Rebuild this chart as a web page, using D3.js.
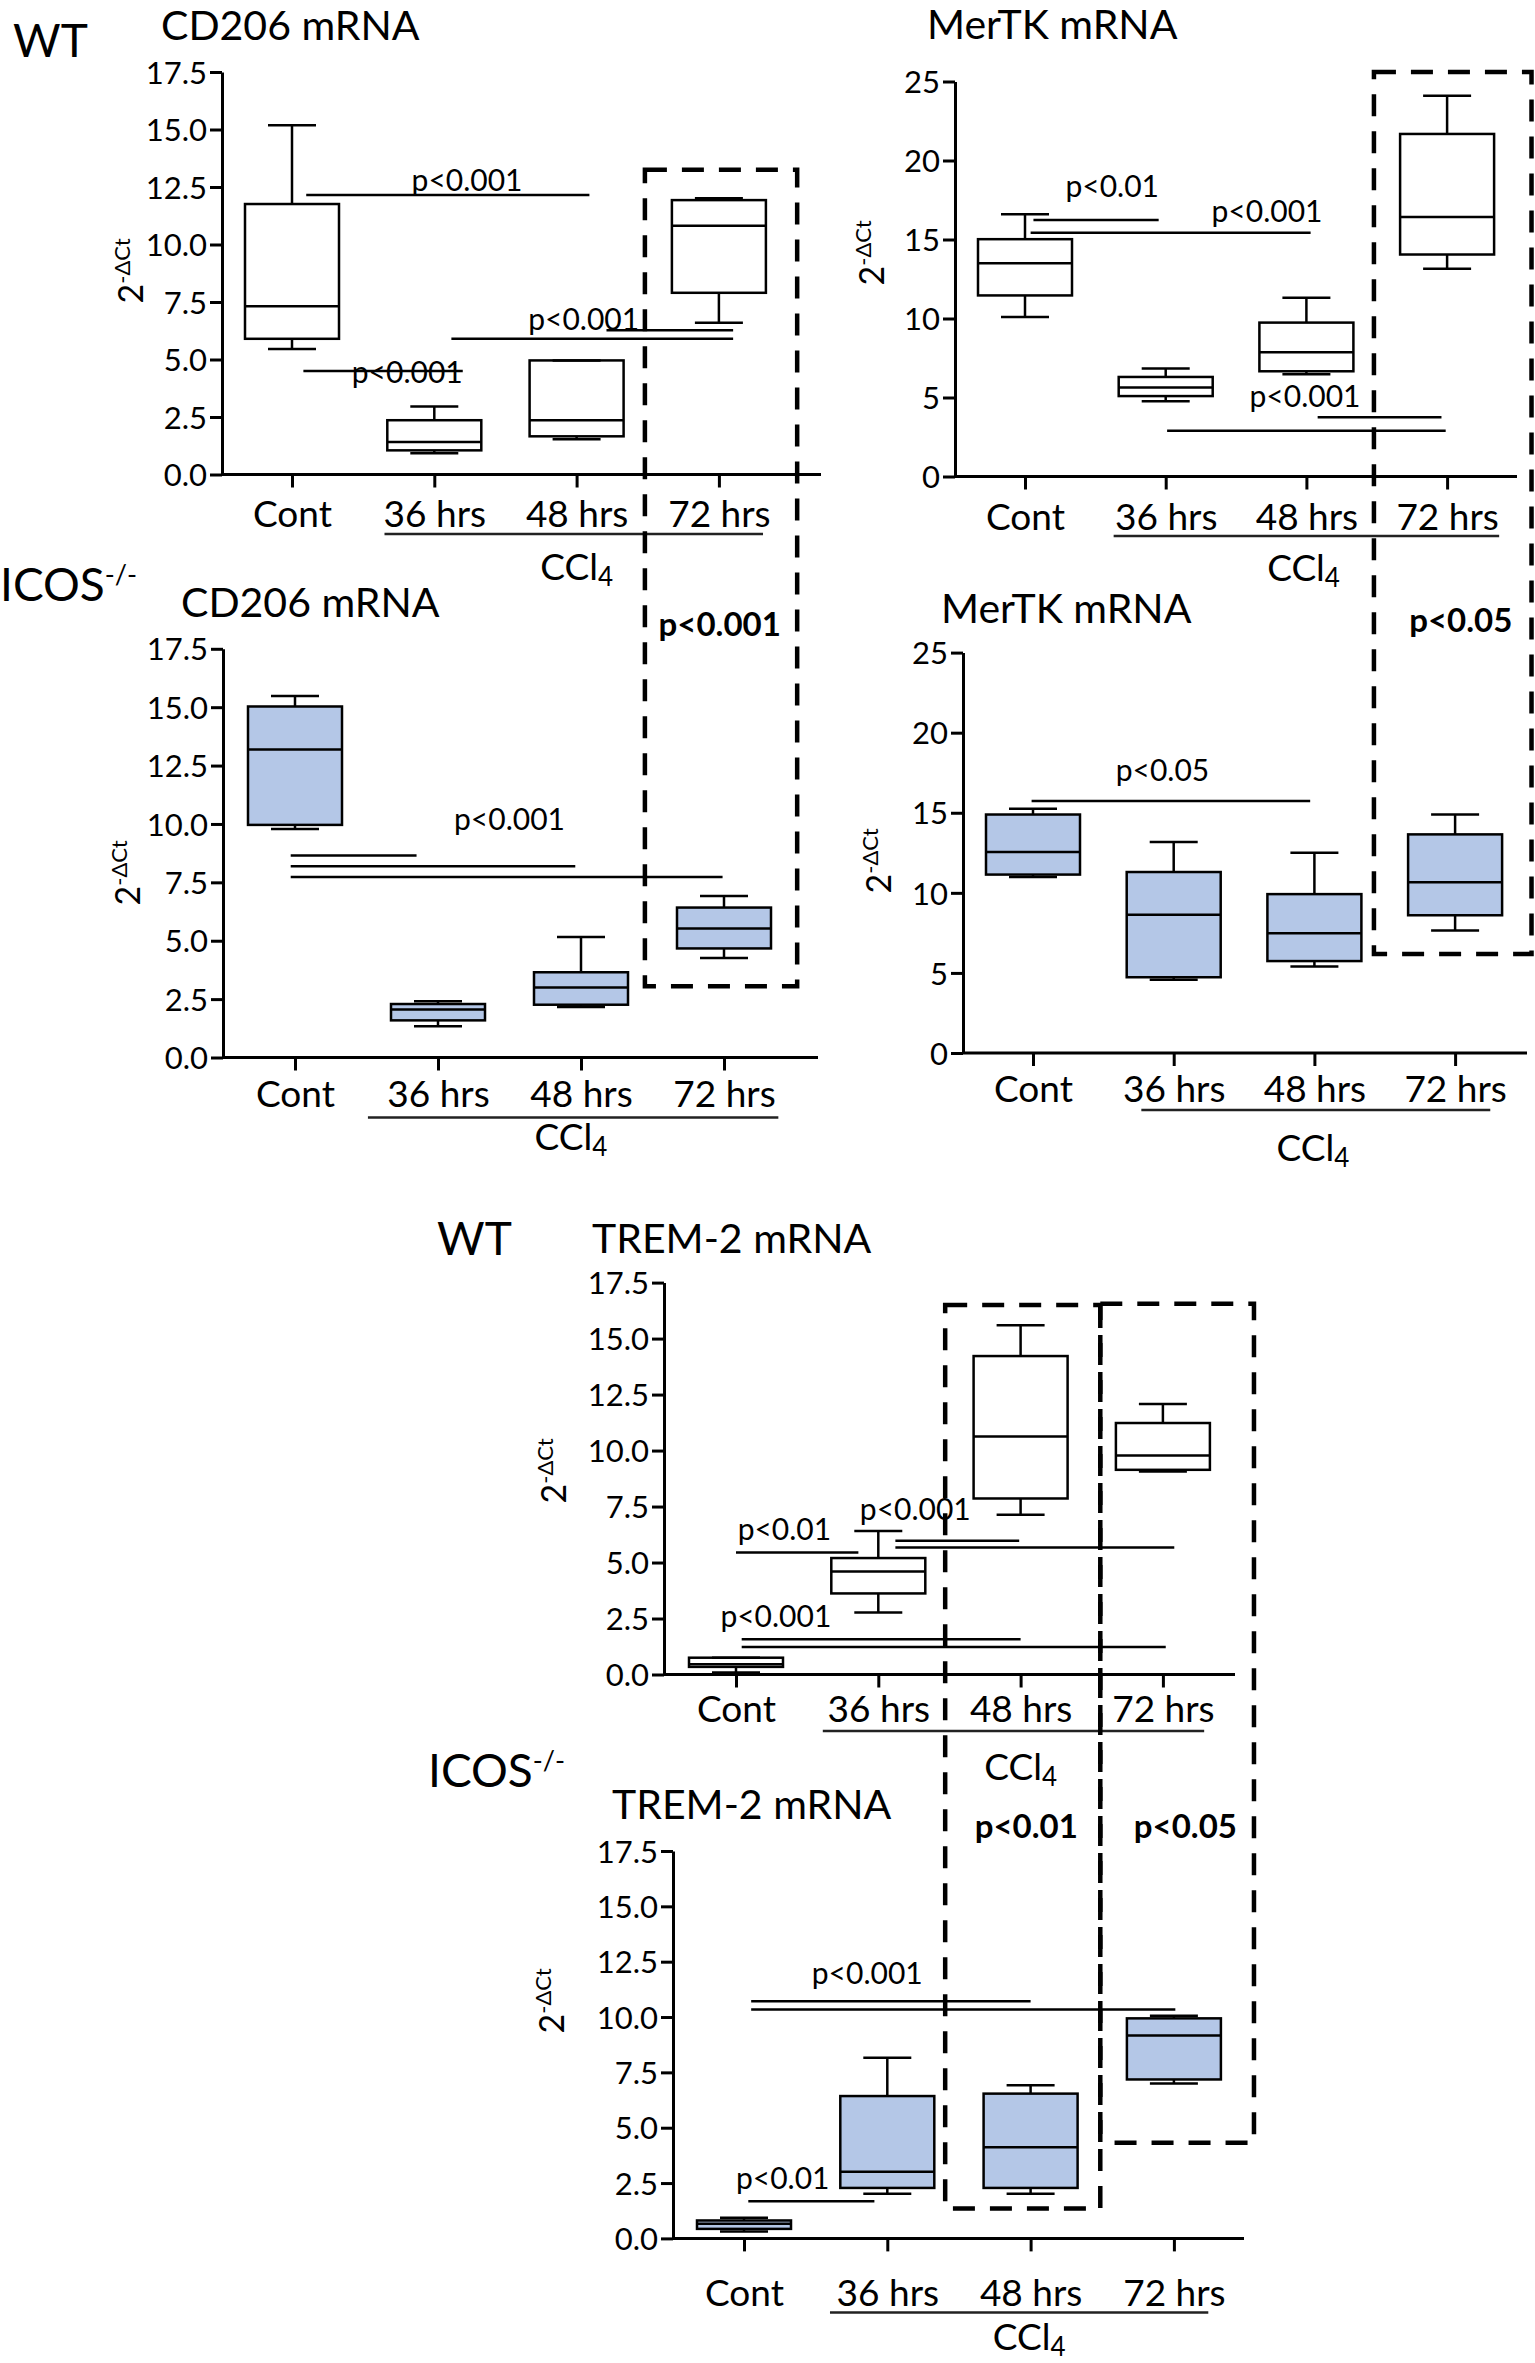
<!DOCTYPE html>
<html>
<head>
<meta charset="utf-8">
<script src="https://cdn.jsdelivr.net/npm/d3@7"></script>
<style>
  body { margin: 0; background: #fff; }
  svg { display: block; }
</style>
</head>
<body>
<script>
// categories and tick values
var categories = ["Cont", "36 hrs", "48 hrs", "72 hrs"];
var ticks175 = [0, 2.5, 5, 7.5, 10, 12.5, 15, 17.5];
var ticks25 = [0, 5, 10, 15, 20, 25];

// box stats per group: [min, q1, median, q3, max]
var cd206WT = [[5.46, 5.9, 7.32, 11.76, 15.19], [0.92, 1.05, 1.41, 2.36, 2.96], [1.53, 1.66, 2.36, 4.96, 4.96], [6.6, 7.9, 10.82, 11.93, 12.01]];
var mertkWT = [[10.1, 11.46, 13.49, 15.02, 16.6], [4.77, 5.09, 5.64, 6.3, 6.83], [6.47, 6.66, 7.87, 9.74, 11.31], [13.15, 14.05, 16.42, 21.68, 24.1]];
var cd206KO = [[9.78, 9.96, 13.19, 15.03, 15.48], [1.34, 1.59, 2.05, 2.29, 2.41], [2.16, 2.26, 3.0, 3.65, 5.16], [4.26, 4.67, 5.52, 6.42, 6.91]];
var mertkKO = [[10.99, 11.14, 12.55, 14.89, 15.25], [4.57, 4.73, 8.63, 11.3, 13.17], [5.4, 5.74, 7.48, 9.92, 12.5], [7.65, 8.6, 10.66, 13.65, 14.89]];
var trem2WT = [[0.09, 0.34, 0.46, 0.75, 0.75], [2.77, 3.62, 4.6, 5.2, 6.41], [7.13, 7.86, 10.63, 14.22, 15.59], [9.06, 9.14, 9.78, 11.23, 12.08]];
var trem2KO = [[0.31, 0.43, 0.66, 0.81, 0.93], [2.02, 2.28, 3.01, 6.43, 8.16], [2.02, 2.28, 4.12, 6.54, 6.92], [7.0, 7.18, 9.16, 9.94, 10.06]];

// significance bars: [from, to, level] (from/to in category units)
var cd206WTBars = [[0.10, 2.09, 12.15], [1.12, 3.10, 5.9], [2.21, 3.10, 6.27], [0.08, 1.20, 4.5]];
var mertkWTBars = [[0.06, 0.95, 16.23], [0.04, 2.03, 15.43], [2.08, 2.96, 3.75], [1.01, 2.99, 2.9]];
var cd206KOBars = [[-0.03, 0.85, 8.65], [-0.03, 1.96, 8.19], [-0.03, 2.99, 7.73]];
var mertkKOBars = [[-0.01, 1.97, 15.73]];
var trem2WTBars = [[0, 0.86, 5.45], [1.12, 1.99, 5.97], [1.12, 3.08, 5.67], [0.04, 2.0, 1.57], [0.04, 3.02, 1.23]];
var trem2KOBars = [[0.05, 2.0, 10.71], [0.05, 3.01, 10.34], [0.03, 0.91, 1.68]];

// p-value labels: [text, position, level of baseline]
var cd206WTLabels = [["p<0.001", 1.23, 12.33], ["p<0.001", 2.05, 6.3], ["p<0.001", 0.81, 3.98]];
var mertkWTLabels = [["p<0.01", 0.62, 17.69], ["p<0.001", 1.72, 16.1], ["p<0.001", 1.99, 4.4]];
var cd206KOLabels = [["p<0.001", 1.50, 9.75]];
var mertkKOLabels = [["p<0.05", 0.92, 16.98]];
var trem2WTLabels = [["p<0.01", 0.34, 6.02], ["p<0.001", 1.26, 6.92], ["p<0.001", 0.28, 2.12]];
var trem2KOLabels = [["p<0.001", 0.86, 11.49], ["p<0.01", 0.27, 2.25]];

var FONT = "Lato, 'Open Sans', sans-serif";
var KO_FILL = "#b4c7e7";

var svg = d3.select("body").append("svg")
    .attr("width", 1535)
    .attr("height", 2363);
svg.append("rect").attr("width", 1535).attr("height", 2363).attr("fill", "#fff");

var panels = [
    {data: cd206WT, bars: cd206WTBars, labels: cd206WTLabels, fill: "#fff", ticks: ticks175, fmt: ".1f", max: 17.5,
     ax: 222, y0: 474.5, yTop: 72, xEnd: 821, c0: 292, step: 142.3,
     title: "CD206 mRNA", tx: 161, ty: 40, lx: 143, ly: 271, catDy: 52.5,
     cclFrom: 0.65, cclTo: 3.31, cclLine: 59.5, cclPos: 2.0, cclDy: 105},
    {data: mertkWT, bars: mertkWTBars, labels: mertkWTLabels, fill: "#fff", ticks: ticks25, fmt: "d", max: 25,
     ax: 955, y0: 476.5, yTop: 81.5, xEnd: 1517, c0: 1025, step: 140.7,
     title: "MerTK mRNA", tx: 927, ty: 39, lx: 884, ly: 253, catDy: 53.5,
     cclFrom: 0.63, cclTo: 3.37, cclLine: 59.5, cclPos: 1.98, cclDy: 104.5},
    {data: cd206KO, bars: cd206KOBars, labels: cd206KOLabels, fill: KO_FILL, ticks: ticks175, fmt: ".1f", max: 17.5,
     ax: 223, y0: 1057.5, yTop: 648.8, xEnd: 818, c0: 295, step: 143,
     title: "CD206 mRNA", tx: 181, ty: 617, lx: 140, ly: 873, catDy: 49.5,
     cclFrom: 0.51, cclTo: 3.38, cclLine: 60, cclPos: 1.93, cclDy: 92},
    {data: mertkKO, bars: mertkKOBars, labels: mertkKOLabels, fill: KO_FILL, ticks: ticks25, fmt: "d", max: 25,
     ax: 963, y0: 1053, yTop: 652.6, xEnd: 1527, c0: 1033, step: 140.7,
     title: "MerTK mRNA", tx: 941, ty: 623, lx: 891, ly: 861, catDy: 48.5,
     cclFrom: 0.77, cclTo: 3.25, cclLine: 57, cclPos: 1.99, cclDy: 108},
    {data: trem2WT, bars: trem2WTBars, labels: trem2WTLabels, fill: "#fff", ticks: ticks175, fmt: ".1f", max: 17.5,
     ax: 664, y0: 1674.5, yTop: 1282.6, xEnd: 1235, c0: 736, step: 142.3,
     title: "TREM-2 mRNA", tx: 592, ty: 1253, lx: 566, ly: 1471, catDy: 47,
     cclFrom: 0.61, cclTo: 3.29, cclLine: 56.5, cclPos: 2.0, cclDy: 105},
    {data: trem2KO, bars: trem2KOBars, labels: trem2KOLabels, fill: KO_FILL, ticks: ticks175, fmt: ".1f", max: 17.5,
     ax: 673, y0: 2238.4, yTop: 1851, xEnd: 1244, c0: 744, step: 143.3,
     title: "TREM-2 mRNA", tx: 612, ty: 1819, lx: 564, ly: 2001, catDy: 67,
     cclFrom: 0.6, cclTo: 3.24, cclLine: 74, cclPos: 1.99, cclDy: 112}
];

function drawPanel(p) {
    var g = svg.append("g");
    var y = d3.scaleLinear().domain([0, p.max]).range([p.y0, p.yTop]);
    var x = d3.scaleLinear().domain([0, 3]).range([p.c0, p.c0 + 3 * p.step]);
    p.x = x;
    p.y = y;

    // y axis
    var ya = g.append("g")
        .attr("transform", "translate(" + p.ax + ",0)")
        .call(d3.axisLeft(y).tickValues(p.ticks).tickFormat(d3.format(p.fmt))
            .tickSize(12).tickPadding(3).tickSizeOuter(0));
    ya.attr("font-family", FONT).attr("font-size", 31);
    ya.selectAll("path, line").attr("stroke", "#000").attr("stroke-width", 3);
    ya.selectAll("text").attr("dy", "0.36em");

    // x axis
    g.append("line")
        .attr("x1", p.ax).attr("x2", p.xEnd)
        .attr("y1", p.y0).attr("y2", p.y0)
        .attr("stroke", "#000").attr("stroke-width", 3);
    var xa = g.append("g")
        .attr("transform", "translate(0," + p.y0 + ")")
        .call(d3.axisBottom(x).tickValues([0, 1, 2, 3])
            .tickFormat(function (i) { return categories[i]; })
            .tickSize(13).tickPadding(p.catDy - 13 - 26));
    xa.select(".domain").remove();
    xa.attr("font-family", FONT).attr("font-size", 37);
    xa.selectAll("line").attr("stroke", "#000").attr("stroke-width", 3);

    // CCl4 underline and label
    g.append("line")
        .attr("x1", x(p.cclFrom)).attr("x2", x(p.cclTo))
        .attr("y1", p.y0 + p.cclLine).attr("y2", p.y0 + p.cclLine)
        .attr("stroke", "#222").attr("stroke-width", 2.5);
    var ccl = g.append("text")
        .attr("x", x(p.cclPos)).attr("y", p.y0 + p.cclDy)
        .attr("text-anchor", "middle")
        .attr("font-family", FONT).attr("font-size", 37);
    ccl.append("tspan").text("CCl");
    ccl.append("tspan").attr("font-size", 26).attr("dy", 6).text("4");

    // boxes
    var half = 47, cap = 24;
    var boxes = g.selectAll(".box").data(p.data).join("g")
        .attr("class", "box")
        .attr("stroke", "#000").attr("stroke-width", 2.5);
    boxes.append("line")
        .attr("x1", function (d, i) { return x(i); })
        .attr("x2", function (d, i) { return x(i); })
        .attr("y1", function (d) { return y(d[4]); })
        .attr("y2", function (d) { return y(d[0]); });
    boxes.append("rect")
        .attr("x", function (d, i) { return x(i) - half; })
        .attr("width", half * 2)
        .attr("y", function (d) { return y(d[3]); })
        .attr("height", function (d) { return y(d[1]) - y(d[3]); })
        .attr("fill", p.fill);
    boxes.append("line")
        .attr("x1", function (d, i) { return x(i) - half; })
        .attr("x2", function (d, i) { return x(i) + half; })
        .attr("y1", function (d) { return y(d[2]); })
        .attr("y2", function (d) { return y(d[2]); });
    [0, 4].forEach(function (k) {
        boxes.append("line")
            .attr("x1", function (d, i) { return x(i) - cap; })
            .attr("x2", function (d, i) { return x(i) + cap; })
            .attr("y1", function (d) { return y(d[k]); })
            .attr("y2", function (d) { return y(d[k]); });
    });

    // significance bars
    g.selectAll(".sig").data(p.bars).join("line")
        .attr("class", "sig")
        .attr("x1", function (d) { return x(d[0]); })
        .attr("x2", function (d) { return x(d[1]); })
        .attr("y1", function (d) { return y(d[2]); })
        .attr("y2", function (d) { return y(d[2]); })
        .attr("stroke", "#000").attr("stroke-width", 2.5);
    g.selectAll(".plab").data(p.labels).join("text")
        .attr("class", "plab")
        .attr("x", function (d) { return x(d[1]); })
        .attr("y", function (d) { return y(d[2]); })
        .attr("text-anchor", "middle")
        .attr("font-family", FONT).attr("font-size", 30)
        .text(function (d) { return d[0]; });

    // title
    g.append("text")
        .attr("x", p.tx).attr("y", p.ty)
        .attr("font-family", FONT).attr("font-size", 41)
        .text(p.title);

    // y label 2^-ΔCt
    var yl = g.append("text")
        .attr("transform", "translate(" + p.lx + "," + p.ly + ") rotate(-90)")
        .attr("text-anchor", "middle")
        .attr("font-family", FONT).attr("font-size", 34);
    yl.append("tspan").text("2");
    yl.append("tspan").attr("font-size", 22).attr("dy", -13).text("-\u0394Ct");
}

panels.forEach(drawPanel);

// group labels
function groupLabel(txt, sup, x, y) {
    var t = svg.append("text")
        .attr("x", x).attr("y", y)
        .attr("font-family", FONT).attr("font-size", 46);
    t.append("tspan").text(txt);
    if (sup) t.append("tspan").attr("font-size", 27).attr("dy", -17).text(sup);
}
groupLabel("WT", null, 13, 57);
groupLabel("ICOS", "-/-", 0, 601);
groupLabel("WT", null, 437, 1255);
groupLabel("ICOS", "-/-", 428, 1787);

// dashed highlight boxes
var P = panels;
var dashed = [
    {x1: P[0].x(2.48), x2: P[0].x(3.55), y1: P[0].y(13.25), y2: P[2].y(3.05)},
    {x1: P[1].x(2.48), x2: P[1].x(3.60), y1: P[1].y(25.6), y2: P[3].y(6.18)},
    {x1: P[4].x(1.47), x2: P[4].x(2.56), y1: P[4].y(16.5), y2: P[5].y(1.35)},
    {x1: P[4].x(2.56), x2: P[4].x(3.64), y1: P[4].y(16.55), y2: P[5].y(4.32)}
];
svg.selectAll(".dash").data(dashed).join("rect")
    .attr("class", "dash")
    .attr("x", function (d) { return d.x1; })
    .attr("y", function (d) { return d.y1; })
    .attr("width", function (d) { return d.x2 - d.x1; })
    .attr("height", function (d) { return d.y2 - d.y1; })
    .attr("fill", "none")
    .attr("stroke", "#000").attr("stroke-width", 4.5)
    .attr("stroke-dasharray", "22,15");

// bold p-values inside the dashed boxes: [panel, text, position, level]
var boldLabels = [[2, "p<0.001", 2.97, 18.03], [3, "p<0.05", 3.04, 26.3], [5, "p<0.01", 1.97, 18.08], [5, "p<0.05", 3.08, 18.08]];
svg.selectAll(".bold").data(boldLabels).join("text")
    .attr("class", "bold")
    .attr("x", function (d) { return P[d[0]].x(d[2]); })
    .attr("y", function (d) { return P[d[0]].y(d[3]); })
    .attr("text-anchor", "middle")
    .attr("font-family", FONT).attr("font-size", 33).attr("font-weight", "bold")
    .text(function (d) { return d[1]; });
</script>
</body>
</html>
